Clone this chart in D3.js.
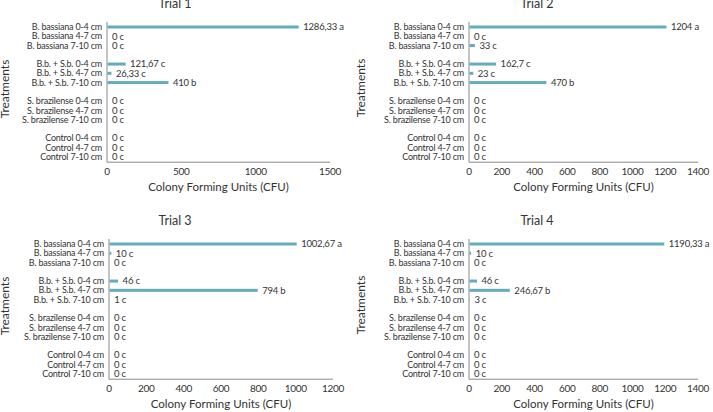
<!DOCTYPE html>
<html>
<head>
<meta charset="utf-8">
<script src="https://cdn.jsdelivr.net/npm/d3@7"></script>
<style>
  body { margin: 0; background: #fff; }
  svg { font-family: Lato, "Noto Sans", sans-serif; }
</style>
</head>
<body>
<svg id="chart" width="713" height="412"></svg>
<script>
const treatments = [
  'B. bassiana 0-4 cm', 'B. bassiana 4-7 cm', 'B. bassiana 7-10 cm',
  'B.b. + S.b. 0-4 cm', 'B.b. + S.b. 4-7 cm', 'B.b. + S.b. 7-10 cm',
  'S. brazilense 0-4 cm', 'S. brazilense 4-7 cm', 'S. brazilense 7-10 cm',
  'Control 0-4 cm', 'Control 4-7 cm', 'Control 7-10 cm',
]

const trial1 = [1286.33, 0, 0, 121.67, 26.33, 410, 0, 0, 0, 0, 0, 0]
const trial2 = [1204, 0, 33, 162.7, 23, 470, 0, 0, 0, 0, 0, 0]
const trial3 = [1002.67, 10, 0, 46, 794, 1, 0, 0, 0, 0, 0, 0]
const trial4 = [1190.33, 10, 0, 46, 246.67, 3, 0, 0, 0, 0, 0, 0]

const letters1 = ['a', 'c', 'c', 'c', 'c', 'b', 'c', 'c', 'c', 'c', 'c', 'c']
const letters2 = ['a', 'c', 'c', 'c', 'c', 'b', 'c', 'c', 'c', 'c', 'c', 'c']
const letters3 = ['a', 'c', 'c', 'c', 'b', 'c', 'c', 'c', 'c', 'c', 'c', 'c']
const letters4 = ['a', 'c', 'c', 'c', 'b', 'c', 'c', 'c', 'c', 'c', 'c', 'c']

const xTicks1 = [0, 500, 1000, 1500]
const xTicks2 = [0, 200, 400, 600, 800, 1000, 1200, 1400]
const xTicks3 = [0, 200, 400, 600, 800, 1000, 1200]
const xTicks4 = [0, 200, 400, 600, 800, 1000, 1200, 1400]

const titles = ['Trial 1', 'Trial 2', 'Trial 3', 'Trial 4']

// panel boxes (layout only)
const panels = [
  { title: titles[0], values: trial1, letters: letters1, ticks: xTicks1, ox: 0, oy: 0, x0: 107, x1: 330 },
  { title: titles[1], values: trial2, letters: letters2, ticks: xTicks2, ox: 355, oy: 0, x0: 114, x1: 343 },
  { title: titles[2], values: trial3, letters: letters3, ticks: xTicks3, ox: 0, oy: 217, x0: 109, x1: 333 },
  { title: titles[3], values: trial4, letters: letters4, ticks: xTicks4, ox: 355, oy: 217, x0: 114, x1: 343 },
]

const barColor = '#64abbd'
const textColor = '#333'
const fmt = (v) => String(+v.toFixed(2)).replace('.', ',')

const svg = d3.select('#chart')

panels.forEach((p) => {
  const g = svg.append('g').attr('transform', `translate(${p.ox},${p.oy})`)

  const x = d3.scaleLinear()
    .domain([0, d3.max(p.ticks)])
    .range([p.x0, p.x1])

  // 12 rows in 4 groups, one empty slot between groups
  const slot = (i) => i + Math.floor(i / 3)
  const y = d3.scaleLinear().domain([0, 14]).range([27, 156.7])

  // title
  g.append('text')
    .attr('x', p.ox === 0 ? 175 : 182)
    .attr('y', 8)
    .attr('text-anchor', 'middle')
    .attr('font-size', 12.5)
    .attr('fill', textColor)
    .text(p.title)

  // y axis title
  g.append('text')
    .attr('transform', `translate(${p.ox === 0 ? 9 : 10},${p.ox === 0 ? 89 : 88}) rotate(-90)`)
    .attr('text-anchor', 'middle')
    .attr('font-size', 12)
    .attr('fill', textColor)
    .text('Treatments')

  // axis lines
  g.append('path')
    .attr('d', `M${x(0)},${y(0) - 5}V${y(14) + 5.5}H${x.range()[1]}`)
    .attr('fill', 'none')
    .attr('stroke', '#8a8a8a')
    .attr('stroke-width', 1)

  // category labels
  g.append('g')
    .selectAll('text')
    .data(treatments)
    .join('text')
    .attr('x', x(0) - 5)
    .attr('y', (d, i) => y(slot(i)))
    .attr('dy', '0.35em')
    .attr('text-anchor', 'end')
    .attr('font-size', 9)
    .attr('letter-spacing', -0.2)
    .attr('fill', textColor)
    .text((d) => d)

  // bars
  g.append('g')
    .selectAll('rect')
    .data(p.values)
    .join('rect')
    .attr('x', x(0) + 0.5)
    .attr('y', (d, i) => y(slot(i)) - 1.5)
    .attr('width', (d) => Math.max(0, x(d) - x(0)))
    .attr('height', 3)
    .attr('fill', barColor)

  // value labels
  g.append('g')
    .selectAll('text')
    .data(p.values)
    .join('text')
    .attr('x', (d) => x(d) + 5)
    .attr('y', (d, i) => y(slot(i)))
    .attr('dy', '0.35em')
    .attr('font-size', 9.5)
    .attr('letter-spacing', -0.2)
    .attr('fill', textColor)
    .text((d, i) => `${fmt(d)} ${p.letters[i]}`)

  // x tick labels
  g.append('g')
    .selectAll('text')
    .data(p.ticks)
    .join('text')
    .attr('x', (d) => x(d))
    .attr('y', 175)
    .attr('text-anchor', 'middle')
    .attr('font-size', 10)
    .attr('letter-spacing', -0.3)
    .attr('fill', textColor)
    .text((d) => d)

  // x axis title
  g.append('text')
    .attr('x', (x.range()[0] + x.range()[1]) / 2)
    .attr('y', 191)
    .attr('text-anchor', 'middle')
    .attr('font-size', 11.5)
    .attr('fill', textColor)
    .text('Colony Forming Units (CFU)')
})
</script>
</body>
</html>
